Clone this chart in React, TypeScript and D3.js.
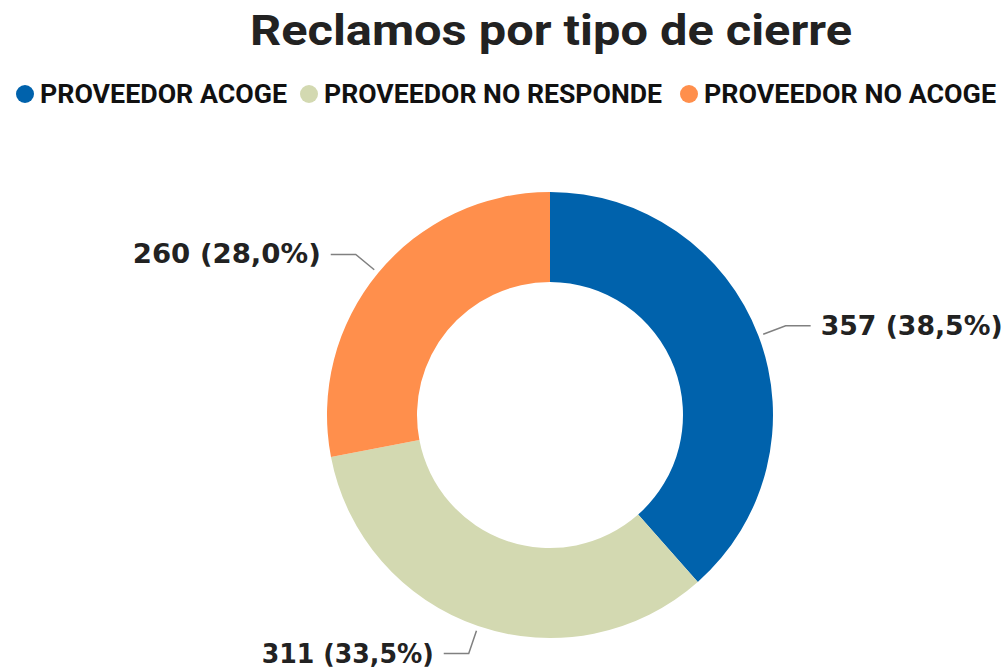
import React from 'react';
import * as d3 from 'd3';

const categories = ['PROVEEDOR ACOGE', 'PROVEEDOR NO RESPONDE', 'PROVEEDOR NO ACOGE'];
const values = [357, 311, 260];
const percentLabels = ['38,5%', '33,5%', '28,0%'];
const colors = ['#0062AC', '#D3D9B1', '#FF8F4C'];

const W = 1005;
const H = 668;
const cx = 550;
const cy = 415;
const outerR = 223;
const innerR = 133;

// legend positions
const legendX = [25, 309, 689];
const legendW = [247, 338, 292];
const labelW = [182, 172, 188];

const App = () => {
    const pie = d3.pie<number>().sort(null).value(d => d);
    const arcs = pie(values);
    const arc = d3.arc<d3.PieArcDatum<number>>().innerRadius(innerR).outerRadius(outerR);

    const polar = (a: number, r: number) => [Math.sin(a) * r, -Math.cos(a) * r];

    return (
        <svg width={W} height={H} style={{ position: 'absolute', left: 0, top: 0, background: '#fff' }}>
            <text x={551} y={45} textAnchor="middle" fontFamily="Roboto" fontWeight="bold"
                fontSize={42} fill="#222" textLength={602} lengthAdjust="spacingAndGlyphs">
                Reclamos por tipo de cierre
            </text>

            {categories.map((c, i) => (
                <g key={c}>
                    <circle cx={legendX[i]} cy={94} r={9} fill={colors[i]} />
                    <text x={legendX[i] + 15} y={103} fontFamily="Roboto" fontWeight="bold" fontSize={26}
                        fill="#111" textLength={legendW[i]} lengthAdjust="spacingAndGlyphs">{c}</text>
                </g>
            ))}

            <g transform={`translate(${cx},${cy})`}>
                {arcs.map((d, i) => (
                    <path key={i} d={arc(d) || ''} fill={colors[i]} />
                ))}
                {arcs.map((d, i) => {
                    const mid = (d.startAngle + d.endAngle) / 2;
                    const [x0, y0] = polar(mid, outerR + 5);
                    const [x1, y1] = polar(mid, 252);
                    const right = x1 > 0;
                    const x2 = x1 + (right ? 25 : -25);
                    const tx = x2 + (right ? 10 : -10);
                    return (
                        <g key={'l' + i}>
                            <polyline points={`${x0},${y0} ${x1},${y1} ${x2},${y1}`} fill="none"
                                stroke="#808080" strokeWidth={1.5} />
                            <text x={tx} y={y1 + 9} textAnchor={right ? 'start' : 'end'}
                                fontFamily="DejaVu Sans" fontWeight="bold" fontSize={26} fill="#222"
                                textLength={labelW[i]} lengthAdjust="spacingAndGlyphs">
                                {`${values[i]} (${percentLabels[i]})`}
                            </text>
                        </g>
                    );
                })}
            </g>
        </svg>
    );
};

export default App;
